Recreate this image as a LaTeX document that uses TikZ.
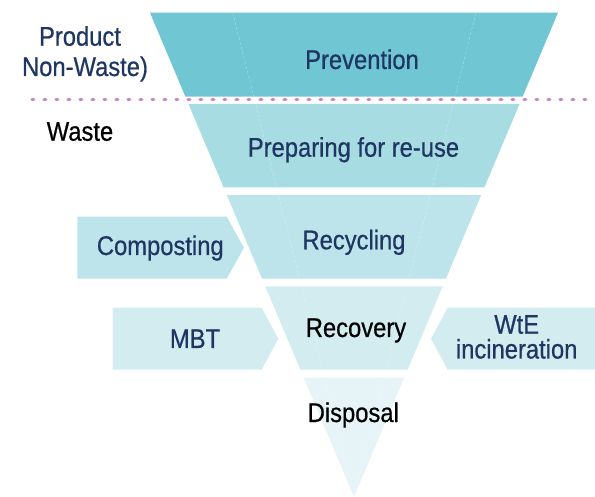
\documentclass[tikz,border=0pt]{standalone}
\usepackage{fontspec}
\setmainfont{Liberation Sans}[FakeStretch=0.88,FakeBold=0.6]
\usetikzlibrary{positioning}
\definecolor{hnavy}{RGB}{31,53,98}
\definecolor{hprev}{RGB}{112,199,211}
\definecolor{hprep}{RGB}{168,220,227}
\definecolor{hrecyc}{RGB}{190,228,235}
\definecolor{hrecov}{RGB}{211,236,240}
\definecolor{hdisp}{RGB}{231,244,247}
\definecolor{hpink}{RGB}{204,136,204}
\tikzset{H text/.style={font=\fontsize{27}{24}\selectfont,text=hnavy,inner sep=0pt,anchor=base},
	H black/.style={H text,text=black},
	H seam/.style={draw=white,draw opacity=0.3,line width=0.6pt,dash pattern=on 3pt off 2pt},
	H dots/.style={draw=hpink,line width=3.3pt,line cap=round,dash pattern=on 1.8pt off 10.2pt},}

\begin{document}
\begin{tikzpicture}[x=1pt,y=-1pt]
			\useasboundingbox (0,0) rectangle (595,497);

			% funnel bands
			\fill[hprev] ({354-0.4212*(497-12.7)},12.7) -- ({354+0.4212*(497-12.7)},12.7) -- ({354+0.4212*(497-96.7)},96.7) -- ({354-0.4212*(497-96.7)},96.7) -- cycle;
			\fill[hprep] ({354-0.4212*(497-104)},104) -- ({354+0.4212*(497-104)},104) -- ({354+0.4212*(497-187.3)},187.3) -- ({354-0.4212*(497-187.3)},187.3) -- cycle;
			\fill[hrecyc] ({354-0.4212*(497-195)},195) -- ({354+0.4212*(497-195)},195) -- ({354+0.4212*(497-278.7)},278.7) -- ({354-0.4212*(497-278.7)},278.7) -- cycle;
			\fill[hrecov] ({354-0.4212*(497-286.3)},286.3) -- ({354+0.4212*(497-286.3)},286.3) -- ({354+0.4212*(497-369.7)},369.7) -- ({354-0.4212*(497-369.7)},369.7) -- cycle;
			\fill[hdisp] ({354-0.4212*(497-377.7)},377.7) -- ({354+0.4212*(497-377.7)},377.7) -- (354,497) -- cycle;

			\draw[H seam] (232.7,12.7) -- (354,497);
			\draw[H seam] (476,12.7) -- (354,497);

			% side arrows
			\fill[hrecyc] (77.3,216.7) -- (226.7,216.7) -- (244,247.7) -- (226.7,278.7) -- (77.3,278.7) -- cycle;
			\fill[hrecov] (112.7,307.7) -- (261.7,307.7) -- (278.3,338.7) -- (261.7,369.7) -- (112.7,369.7) -- cycle;
			\fill[hrecov] (595,307.7) -- (447.7,307.7) -- (431,338.7) -- (447.7,369.7) -- (595,369.7) -- cycle;

			\draw[H dots] (32,99.3) -- (595,99.3);

			\node[H text] (prod) at (80,45.7) {Product};
			\node[H text] (nonwaste) at (85,76) {Non-Waste)};
			\node[H black] (waste) at (80,140.7) {Waste};

			\node[H text] (prev) at (362,69) {Prevention};
			\node[H text] (prep) at (353.5,156.7) {Preparing for re-use};
			\node[H text] (recyc) at (354,249.3) {Recycling};
			\node[H black] (recov) at (356,337) {Recovery};
			\node[H black] (disp) at (353.3,422) {Disposal};

			\node[H text] (compost) at (160.3,255) {Composting};
			\node[H text] (mbt) at (195,348) {MBT};
			\node[H text] (wte) at (516.7,333.7) {WtE};
			\node[H text] (incin) at (516.7,358.5) {incineration};
		\end{tikzpicture}
\end{document}
